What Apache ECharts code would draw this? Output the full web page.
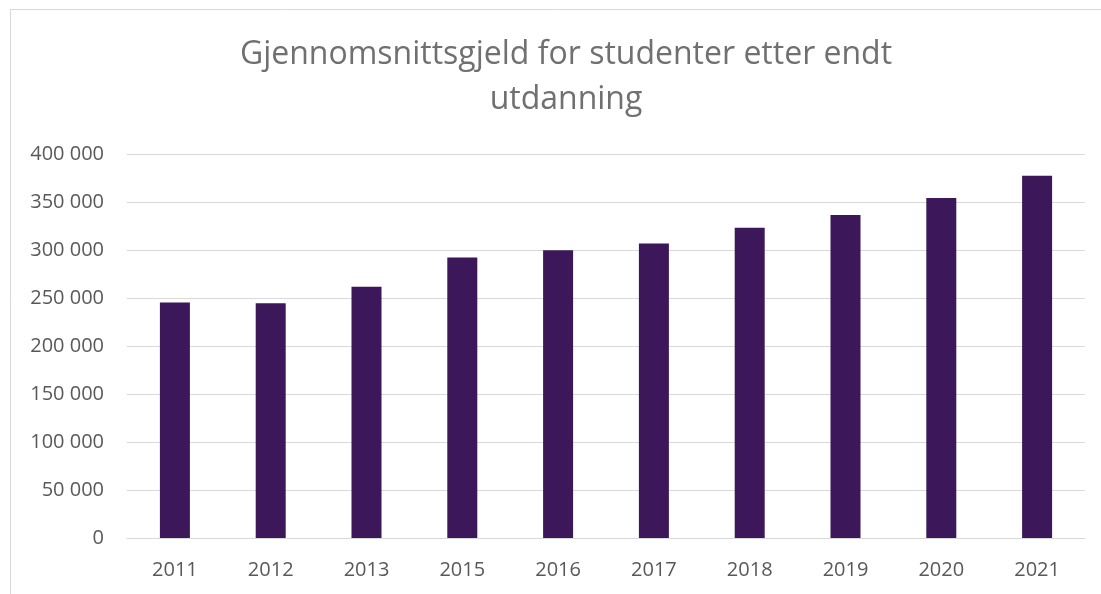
<!DOCTYPE html>
<html>
<head>
<meta charset="utf-8">
<script src="https://cdn.jsdelivr.net/npm/echarts@6/dist/echarts.min.js"></script>
<style>
  html, body { margin: 0; padding: 0; background: #fff; }
  #chart { width: 1101px; height: 594px; }
</style>
</head>
<body>
<div id="chart"></div>
<script>
// år og gjennomsnittsgjeld (kr), lest av figuren
var years = ["2011", "2012", "2013", "2015", "2016", "2017", "2018", "2019", "2020", "2021"];
var debt = [245300, 244600, 261600, 292100, 299700, 306700, 323300, 336500, 354200, 377300];
var yTicks = [0, 50000, 100000, 150000, 200000, 250000, 300000, 350000, 400000];

var myChart = echarts.init(document.getElementById("chart"));
var font = "'Open Sans', sans-serif";

function fmt(v) {
  return String(v).replace(/\B(?=(\d{3})+(?!\d))/g, " ");
}

var option = {
  animation: false,
  backgroundColor: "#fff",
  title: {
    text: "Gjennomsnittsgjeld for studenter etter endt\nutdanning",
    left: 561,
    textAlign: "center",
    top: 27,
    textStyle: {
      fontFamily: font,
      fontSize: 32,
      fontWeight: "normal",
      color: "#707070",
      lineHeight: 45,
    },
  },
  graphic: [
    {
      type: "rect",
      shape: { x: 10.5, y: 9.5, width: 1100, height: 600 },
      style: { fill: "none", stroke: "#d9d9d9", lineWidth: 1 },
      silent: true,
    },
  ],
  grid: { left: 127, right: 16, top: 154, bottom: 56 },
  xAxis: {
    type: "category",
    data: years,
    axisLine: { lineStyle: { color: "#d9d9d9", width: 1 } },
    axisTick: { show: false },
    axisLabel: {
      margin: 22,
      fontFamily: font,
      fontSize: 20,
      color: "#595959",
    },
  },
  yAxis: {
    type: "value",
    min: yTicks[0],
    max: yTicks[yTicks.length - 1],
    interval: yTicks[1] - yTicks[0],
    axisLine: { show: false },
    axisTick: { show: false },
    splitLine: { lineStyle: { color: "#d9d9d9", width: 1 } },
    axisLabel: {
      margin: 23,
      fontFamily: font,
      fontSize: 20,
      color: "#595959",
      formatter: fmt,
    },
  },
  series: [
    {
      type: "bar",
      data: debt,
      barWidth: 30,
      itemStyle: { color: "#3c1759" },
    },
  ],
};

option && myChart.setOption(option);
</script>
</body>
</html>
